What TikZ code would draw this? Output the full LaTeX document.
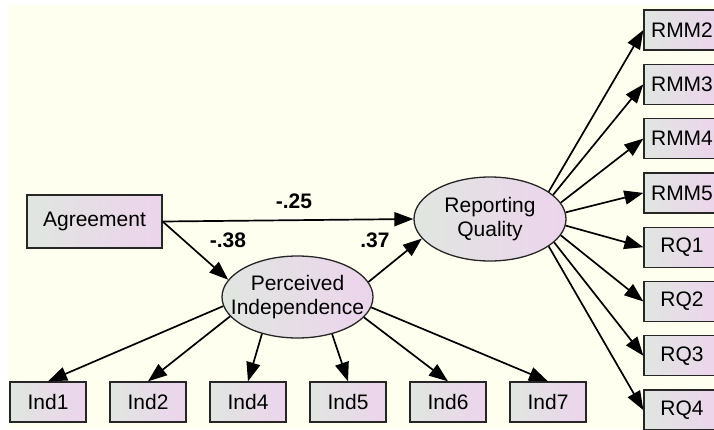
\documentclass[tikz,border=0pt]{standalone}
\usepackage{fontspec}
\setmainfont{Liberation Sans}
\usetikzlibrary{arrows.meta,shapes.geometric}
\definecolor{canvas}{RGB}{255,255,240}
\definecolor{shadeL}{RGB}{224,230,224}
\definecolor{shadeR}{RGB}{236,212,236}
\begin{document}
\begin{tikzpicture}[x=1pt,y=-1pt,
  shadedfill/.style={draw=black!85, line width=1.3pt, left color=shadeL, right color=shadeR},
  obs/.style={shadedfill, rectangle, minimum width=76pt, minimum height=40pt, inner sep=0pt,
    font=\fontsize{21}{24}\selectfont},
  latent/.style={shadedfill, ellipse, inner sep=0pt},
  latentlabel/.style={align=center, inner sep=0pt, font=\fontsize{21}{23.5}\selectfont},
  arr/.style={draw=black, line width=1.7pt, -{Triangle[length=19pt,width=14pt]}},
  coef/.style={font=\bfseries\fontsize{21}{24}\selectfont}]
  \clip (0,0) rectangle (714,429);
  \fill[white] (0,0) rectangle (714,429);
  \fill[canvas] (8,5) rectangle (714,429);

  % exogenous observed variable
  \node[obs, minimum width=135pt, minimum height=53pt] (agr) at (94.5,221.5) {Agreement};

  % latent variables (fixed-size ellipses, labels set on top)
  \node[latent, minimum width=151pt, minimum height=82pt] (pi) at (297.5,297) {};
  \node[latentlabel] (pilabel) at (pi.center) {Perceived\\Independence};
  \node[latent, minimum width=152pt, minimum height=84pt] (rq) at (490,219) {};
  \node[latentlabel] (rqlabel) at (rq.center) {Reporting\\Quality};

  % indicators of Perceived Independence
  \node[obs] (ind1) at (48,402) {Ind1};
  \node[obs] (ind2) at (148,402) {Ind2};
  \node[obs] (ind4) at (248,402) {Ind4};
  \node[obs] (ind5) at (348,402) {Ind5};
  \node[obs] (ind6) at (448,402) {Ind6};
  \node[obs] (ind7) at (548,402) {Ind7};

  % indicators of Reporting Quality
  \node[obs] (rmm2) at (682,30) {RMM2};
  \node[obs] (rmm3) at (682,84.3) {RMM3};
  \node[obs] (rmm4) at (682,138.6) {RMM4};
  \node[obs] (rmm5) at (682,192.9) {RMM5};
  \node[obs] (rq1) at (682,247.2) {RQ1};
  \node[obs] (rq2) at (682,301.5) {RQ2};
  \node[obs] (rq3) at (682,355.8) {RQ3};
  \node[obs] (rq4) at (682,410.1) {RQ4};

  % structural paths
  \draw[arr] (agr.east) -- (rq.west);
  \draw[arr] (agr.east) -- (pi.166);
  \draw[arr] (pi.12) -- (rq.196);

  % path coefficients
  \node[coef] (c1) at (294,201) {-.25};
  \node[coef] (c2) at (228,240) {-.38};
  \node[coef] (c3) at (375,240) {.37};

  % measurement paths
  \draw[arr] (pi.187.6) -- (ind1.north);
  \draw[arr] (pi.196.6) -- (ind2.north);
  \draw[arr] (pi.226.8) -- (ind4.north);
  \draw[arr] (pi.313.2) -- (ind5.north);
  \draw[arr] (pi.343.4) -- (ind6.north);
  \draw[arr] (pi.352.4) -- (ind7.north);

  \draw[arr] (rq.25) -- (rmm2.west);
  \draw[arr] (rq.21) -- (rmm3.west);
  \draw[arr] (rq.13) -- (rmm4.west);
  \draw[arr] (rq.5) -- (rmm5.west);
  \draw[arr] (rq.-5) -- (rq1.west);
  \draw[arr] (rq.-13) -- (rq2.west);
  \draw[arr] (rq.-20) -- (rq3.west);
  \draw[arr] (rq.-25) -- (rq4.west);
\end{tikzpicture}
\end{document}
